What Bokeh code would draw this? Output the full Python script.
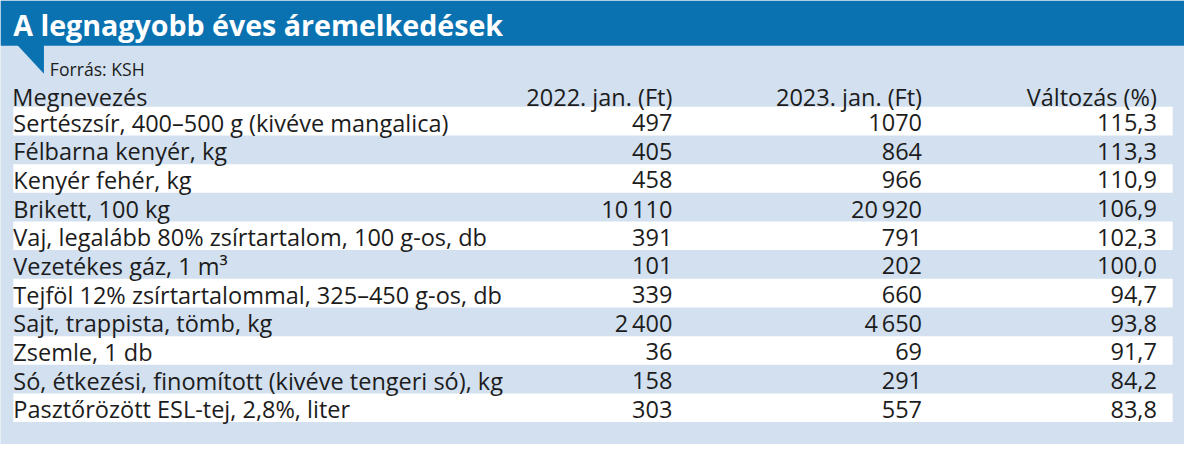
from bokeh.plotting import figure
from bokeh.models import ColumnDataSource, Range1d
from bokeh.core.properties import value
from bokeh.embed import file_html
from bokeh.resources import INLINE

# ---------------- data ----------------
title = "A legnagyobb éves áremelkedések"
source_note = "Forrás: KSH"
headers = ["Megnevezés", "2022. jan. (Ft)", "2023. jan. (Ft)", "Változás (%)"]
items = [
    "Sertészsír, 400–500 g (kivéve mangalica)",
    "Félbarna kenyér, kg",
    "Kenyér fehér, kg",
    "Brikett, 100 kg",
    "Vaj, legalább 80% zsírtartalom, 100 g-os, db",
    "Vezetékes gáz, 1 m³",
    "Tejföl 12% zsírtartalommal, 325–450 g-os, db",
    "Sajt, trappista, tömb, kg",
    "Zsemle, 1 db",
    "Só, étkezési, finomított (kivéve tengeri só), kg",
    "Pasztőrözött ESL-tej, 2,8%, liter",
]
price_2022 = [497, 405, 458, 10110, 391, 101, 339, 2400, 36, 158, 303]
price_2023 = [1070, 864, 966, 20920, 791, 202, 660, 4650, 69, 291, 557]
change_pct = [115.3, 113.3, 110.9, 106.9, 102.3, 100.0, 94.7, 93.8, 91.7, 84.2, 83.8]

# ---------------- styling / layout ----------------
W, H = 1184, 444
BG = "#d2e0ef"
BLUE = "#0b72b2"
TXT = "#1c1c1c"
FONT = "Open Sans"
S = H / 460.0


def fmt_price(v):
    if v >= 2000:
        return f"{v:,}".replace(",", "\u2009")
    return str(v)


def fmt_pct(v):
    return f"{v:.1f}".replace(".", ",")


ROW0, ROWH = 125.0, 29.7
n = len(items)
row_y = [ROW0 + i * ROWH for i in range(n)]
TEXT_DY = 1.5

p = figure(width=W, height=H, output_backend="svg", toolbar_location=None,
           x_range=Range1d(0, 1200), y_range=Range1d(460, 0),
           background_fill_color=BG, border_fill_color=BG, min_border=0)
p.axis.visible = False
p.grid.visible = False
p.outline_line_color = None

# title bar and tail
p.quad(left=[0], right=[1200], top=[0], bottom=[47], fill_color=BLUE, line_color=None)
p.patch(x=[17, 44, 44], y=[46, 46, 76], fill_color=BLUE, line_color=None)
p.text(x=[13], y=[25], text=[title], text_font=value(FONT), text_font_style="bold",
       text_font_size=f"{29.6*S:.1f}px", text_color="white", text_baseline="middle")
p.text(x=[50], y=[71], text=[source_note], text_font=value(FONT),
       text_font_size=f"{18.2*S:.1f}px", text_color=TXT, text_baseline="middle")

# white stripes
stripe_y = [row_y[i] for i in range(0, n, 2)]
p.quad(left=13, right=1188, top=[y - 14.8 for y in stripe_y], bottom=[y + 14.8 for y in stripe_y],
       fill_color="white", line_color=None)

fs = f"{24.3*S:.1f}px"
# header
hx = [12, 681, 934, 1172]
halign = ["left", "right", "right", "right"]
for x, t, a in zip(hx, headers, halign):
    p.text(x=[x], y=[98 + TEXT_DY], text=[t], text_font=value(FONT), text_font_size=fs,
           text_color=TXT, text_baseline="middle", text_align=a)

src = ColumnDataSource(dict(
    y=[y + TEXT_DY for y in row_y],
    name=items,
    p22=[fmt_price(v) for v in price_2022],
    p23=[fmt_price(v) for v in price_2023],
    pct=[fmt_pct(v) for v in change_pct],
))
common = dict(y="y", source=src, text_font=value(FONT), text_font_size=fs,
              text_color=TXT, text_baseline="middle")
p.text(x=13, text="name", text_align="left", **common)
p.text(x=681, text="p22", text_align="right", **common)
p.text(x=934, text="p23", text_align="right", **common)
p.text(x=1172, text="pct", text_align="right", **common)

open("out.html", "w").write(file_html(p, INLINE))
